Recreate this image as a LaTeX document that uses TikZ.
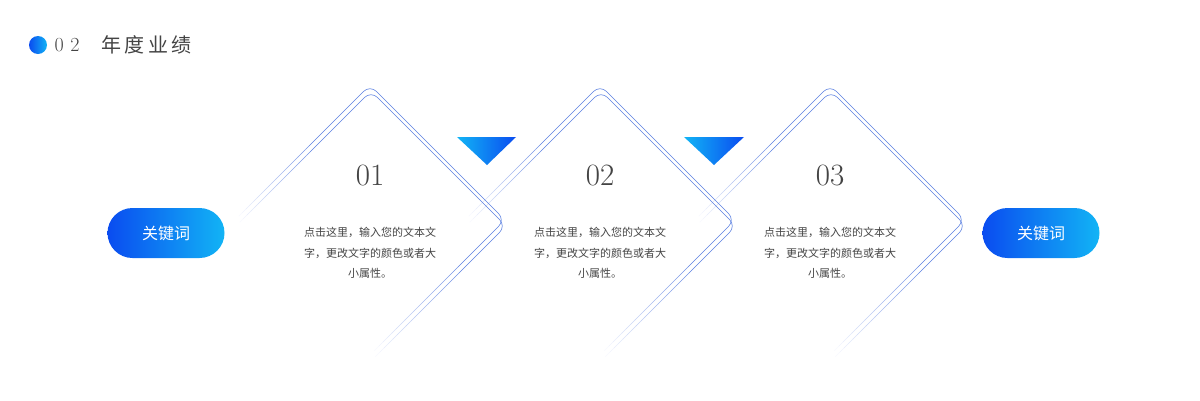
\documentclass[tikz,border=0pt]{standalone}
\usepackage{fontspec}
\newfontfamily\cjk{Noto Sans CJK SC}
\newfontfamily\cjkl{Noto Sans CJK SC Light}
\usetikzlibrary{calc}
\definecolor{lb}{HTML}{5A7FE0}
\definecolor{dk}{HTML}{0A4CF0}
\definecolor{cy}{HTML}{12B4F5}
\definecolor{tx}{HTML}{444444}
\tikzset{ln/.style={draw=lb,line width=0.6pt,rounded corners=9pt},
 pill/.style={rounded corners=25pt,left color=dk,right color=cy,minimum width=117pt,minimum height=50pt,text=white,font=\cjk\fontsize{16}{18}\selectfont},
 tri/.style={left color=cy,right color=dk}}
\newcommand\tail[2]{%
 \foreach \i in {0,...,19}{\draw[draw=lb,line width=0.6pt,draw opacity=\i/22] ($#1!{\i/20}!#2$) -- ($#1!{(\i+1)/20}!#2$);}}
\newcommand\dia[2]{%
 \begin{scope}[shift={(#1,#2)}]
 \coordinate (T) at (0,85); \coordinate (R) at (135,220); \coordinate (B) at (0,355); \coordinate (L) at (-135,220);
 \coordinate (m1) at ($(L)!0.55!(T)$); \coordinate (m2) at ($(R)!0.35!(B)$);
 \path[ln] (m1) -- (T) -- (R) -- (m2);
 \tail{(L)}{(m1)}
 \tail{(B)}{(m2)}
 \end{scope}}
\begin{document}
\begin{tikzpicture}[x=1pt,y=-1pt]
\useasboundingbox (0,0) rectangle (1200,400);
\shade[left color=dk,right color=cy] (38,45) circle (9);
\node[anchor=west,text=tx,font=\fontsize{20}{22}\selectfont] (num) at (51,45) {0\,\,2};
\node[anchor=west,text=tx,font=\cjk\fontsize{20}{22}\selectfont] (ttl) at (98,45) {年\,度\,业\,绩};
\foreach \c/\n in {370/01,600/02,830/03}{
 \dia{\c}{0}
 \dia{\c+1}{6}
 \node[text=tx,font=\fontsize{31}{34}\selectfont] (n\n) at (\c,175) {\n};
 \node[text=tx,font=\cjk\fontsize{11}{20.5}\selectfont,align=center] (t\n) at (\c,253) {点击这里，输入您的文本文\\字，更改文字的颜色或者大\\小属性。};
}
\shade[tri] (457,137) -- (516,137) -- (487,165) -- cycle;
\shade[tri] (684,137) -- (744,137) -- (714,165) -- cycle;
\node[pill] (k1) at (166,233) {关键词};
\node[pill] (k2) at (1041,233) {关键词};
\end{tikzpicture}
\end{document}
